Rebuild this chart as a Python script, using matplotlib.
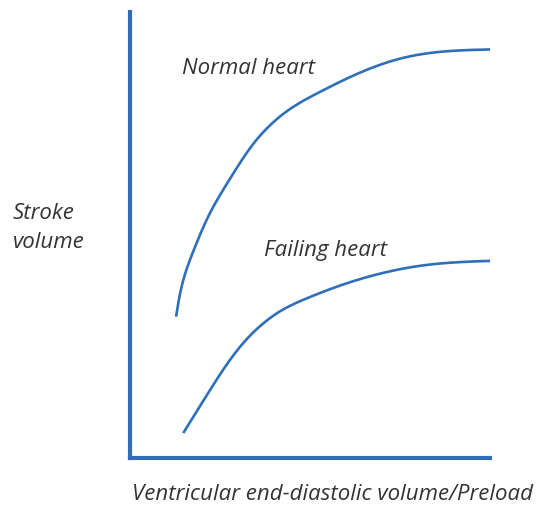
import matplotlib
matplotlib.use("Agg")
import matplotlib.pyplot as plt
import numpy as np

# curve shapes (arbitrary units, 0-100)
normal_x = [12.8, 14.8, 18.1, 22.2, 27.3, 31.9, 34.7, 38.9, 44.0, 52.8, 61.1, 75.8, 85.3, 100]
normal_y = [31.7, 39.9, 47.4, 54.9, 62.0, 67.8, 70.9, 74.6, 78.0, 82.1, 85.4, 89.7, 91.0, 91.6]

failing_x = [14.8, 22.2, 28.6, 33.3, 37.5, 41.7, 50.0, 60.3, 70.3, 82.5, 100]
failing_y = [5.6, 15.2, 22.9, 27.4, 30.5, 32.9, 36.1, 39.2, 41.5, 43.3, 44.2]

blue = '#2f6fba'
txt = '#333333'
font = ['Open Sans', 'DejaVu Sans']


def natural_spline(t, v, tt):
    n = len(t)
    h = np.diff(t)
    A = np.zeros((n, n))
    r = np.zeros(n)
    A[0, 0] = A[-1, -1] = 1
    for i in range(1, n - 1):
        A[i, i - 1] = h[i - 1]
        A[i, i] = 2 * (h[i - 1] + h[i])
        A[i, i + 1] = h[i]
        r[i] = 6 * ((v[i + 1] - v[i]) / h[i] - (v[i] - v[i - 1]) / h[i - 1])
    m = np.linalg.solve(A, r)
    k = np.clip(np.searchsorted(t, tt) - 1, 0, n - 2)
    d = tt - t[k]
    hk = h[k]
    b = (v[k + 1] - v[k]) / hk - hk * (2 * m[k] + m[k + 1]) / 6
    return v[k] + b * d + m[k] / 2 * d ** 2 + (m[k + 1] - m[k]) / (6 * hk) * d ** 3


def smooth(xs, ys, sx=3.6, sy=4.46):
    # spline through the read points (chord-length parameter), only to draw a smooth line
    x = np.asarray(xs) * sx
    y = np.asarray(ys) * sy
    t = np.concatenate([[0], np.cumsum(np.hypot(np.diff(x), np.diff(y)))])
    tt = np.linspace(0, t[-1], 400)
    return natural_spline(t, x, tt) / sx, natural_spline(t, y, tt) / sy


fig = plt.figure(figsize=(5.40, 5.07), dpi=100)
ax = fig.add_axes([130 / 540, 49 / 507, 360 / 540, 446 / 507])

ax.plot(*smooth(normal_x, normal_y), color=blue, lw=1.9, solid_capstyle='butt')
ax.plot(*smooth(failing_x, failing_y), color=blue, lw=1.9, solid_capstyle='butt')

ax.set_xlim(0, 100)
ax.set_ylim(0, 100)
ax.set_xticks([])
ax.set_yticks([])
for s in ['top', 'right']:
    ax.spines[s].set_visible(False)
for s in ['left', 'bottom']:
    ax.spines[s].set_color(blue)
    ax.spines[s].set_linewidth(3)

ax.text(14.5, 87.3, 'Normal heart', style='italic', fontsize=16, color=txt,
        family=font, va='center')
ax.text(37.2, 46.6, 'Failing heart', style='italic', fontsize=16, color=txt,
        family=font, va='center')

fig.text(13 / 540, 1 - 228 / 507, 'Stroke\nvolume', style='italic', fontsize=16,
         color=txt, family=font, va='center', ha='left', linespacing=1.5)
fig.text(132 / 540, 1 - 495 / 507, 'Ventricular end-diastolic volume/Preload',
         style='italic', fontsize=16, color=txt, family=font, va='center', ha='left')

fig.savefig('out.png', dpi=100)
